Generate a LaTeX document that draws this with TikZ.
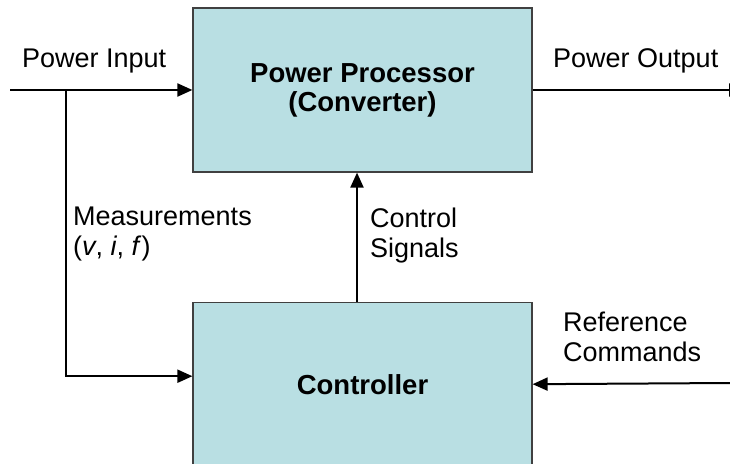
\documentclass[tikz,border=0pt]{standalone}
\usepackage{fontspec}
\setmainfont{Liberation Sans}
\usetikzlibrary{arrows.meta,positioning}
\definecolor{boxblue}{RGB}{185,223,227}

\begin{document}
\begin{tikzpicture}[
    x=1pt, y=1pt,
    node distance=129pt,
    >={Triangle[length=15pt,width=13pt]},
    blk/.style={rectangle, draw=black!75, line width=1.2pt, fill=boxblue, minimum width=339pt, minimum height=164pt, align=center, font=\fontsize{27.5}{29}\selectfont\bfseries},
    lbl/.style={anchor=base west, align=left, inner sep=0pt, font=\fontsize{27}{30}\selectfont},
    arr/.style={->, line width=2pt}
]
    \useasboundingbox (0,0) rectangle (730,463);
    \node[blk] (proc) at (362.5,373) {Power Processor\\(Converter)};
    \node[blk, below=of proc] (ctrl) {Controller};
    \coordinate (pin) at (10,373);
    \coordinate (tap) at (66,373);
    \coordinate (pout) at (744,373);
    \coordinate (ref) at (731,80);
    \draw[arr] (pin) -- (proc.west);
    \draw[arr] (proc.east) -- (pout);
    \draw[arr] (tap) |- ([yshift=8pt]ctrl.west);
    \draw[arr] ([xshift=-5.5pt]ctrl.north) -- ([xshift=-5.5pt]proc.south);
    \draw[arr] (ref) -- (ctrl.east);
    \node[lbl] (inlbl) at (22,395) {Power Input};
    \node[lbl] (outlbl) at (553,395) {Power Output};
    \node[lbl] (measlbl) at (73,207) {Measurements\\(\textit{v}, \textit{i}, \textit{f})};
    \node[lbl] (siglbl) at (370,205) {Control\\Signals};
    \node[lbl] (reflbl) at (563,101) {Reference\\Commands};
\end{tikzpicture}
\end{document}
